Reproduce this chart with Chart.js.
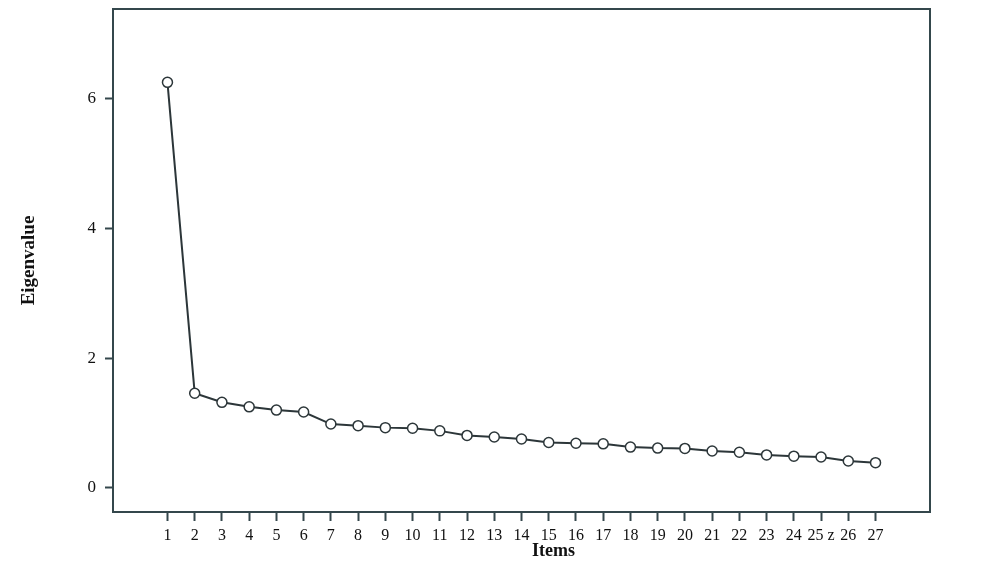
<!DOCTYPE html>
<html>
<head>
<meta charset="utf-8">
<script src="https://cdn.jsdelivr.net/npm/chart.js@4/dist/chart.umd.min.js"></script>
<style>
  html, body { margin: 0; padding: 0; background: #fff; }
  #wrap { width: 1000px; height: 564px; }
</style>
</head>
<body>
<div id="wrap"><canvas id="scree"></canvas></div>
<script>
// Scree plot: valeurs propres par item
const items = [1, 2, 3, 4, 5, 6, 7, 8, 9, 10, 11, 12, 13, 14, 15, 16, 17, 18, 19, 20, 21, 22, 23, 24, 25, 26, 27];
const itemLabels = ['1', '2', '3', '4', '5', '6', '7', '8', '9', '10', '11', '12', '13', '14', '15', '16', '17', '18', '19', '20', '21', '22', '23', '24', '25 z', '26', '27'];
const eigenvalues = [6.25, 1.46, 1.32, 1.25, 1.2, 1.17, 0.985, 0.96, 0.93, 0.92, 0.88, 0.81, 0.785, 0.754, 0.70, 0.69, 0.68, 0.63, 0.615, 0.61, 0.57, 0.55, 0.51, 0.49, 0.477, 0.415, 0.39];
const yTicks = [0, 2, 4, 6];

const ink = '#2c3639';
const serif = "'Liberation Serif', 'DejaVu Serif', serif";

// Cadre autour de la zone de tracé + titre de l'axe X décalé comme sur l'original
const framePlugin = {
  id: 'frame',
  afterDraw(chart) {
    const { ctx, chartArea: a } = chart;
    ctx.save();
    ctx.strokeStyle = '#34474c';
    ctx.lineWidth = 2;
    ctx.strokeRect(a.left, a.top, a.right - a.left, a.bottom - a.top);
    ctx.fillStyle = '#111';
    ctx.font = `bold 18px ${serif}`;
    ctx.textAlign = 'center';
    ctx.textBaseline = 'middle';
    ctx.fillText('Items', (a.left + a.right) / 2 + 32, a.bottom + 39);
    ctx.restore();
  },
};

new Chart(document.getElementById('scree'), {
  type: 'line',
  data: {
    datasets: [{
      data: items.map((x, i) => ({ x, y: eigenvalues[i] })),
      borderColor: ink,
      borderWidth: 2,
      pointRadius: 5,
      pointBorderWidth: 1.5,
      pointBorderColor: ink,
      pointBackgroundColor: '#fff',
      tension: 0,
    }],
  },
  options: {
    responsive: true,
    maintainAspectRatio: false,
    animation: false,
    layout: { padding: { top: 9, right: 70, left: 0, bottom: 0 } },
    plugins: { legend: { display: false }, tooltip: { enabled: false } },
    scales: {
      x: {
        type: 'linear',
        min: -1,
        max: 29,
        afterBuildTicks: (s) => { s.ticks = items.map(v => ({ value: v })); },
        afterFit: (s) => { s.height = 52; s.paddingLeft = 0; s.paddingRight = 0; },
        grid: { drawOnChartArea: false, tickLength: 9, tickWidth: 2, tickColor: '#34474c', drawTicks: true },
        border: { display: false },
        ticks: {
          color: '#111',
          font: { family: serif, size: 16 },
          padding: 5,
          maxRotation: 0,
          autoSkip: false,
          callback: (v) => itemLabels[items.indexOf(v)],
        },
        title: { display: false },
      },
      y: {
        min: -0.37,
        max: 7.38,
        afterBuildTicks: (s) => { s.ticks = yTicks.map(v => ({ value: v })); },
        afterFit: (s) => { s.width = 113; s.paddingTop = 0; s.paddingBottom = 0; },
        grid: { drawOnChartArea: false, tickLength: 8, tickWidth: 2, tickColor: '#34474c' },
        border: { display: false },
        ticks: {
          color: '#111',
          font: { family: serif, size: 17 },
          padding: 9,
        },
        title: {
          display: true,
          text: 'Eigenvalue',
          color: '#111',
          font: { family: serif, size: 19, weight: 'bold' },
          padding: { top: 18, bottom: 0 },
        },
      },
    },
  },
  plugins: [framePlugin],
});
</script>
</body>
</html>
